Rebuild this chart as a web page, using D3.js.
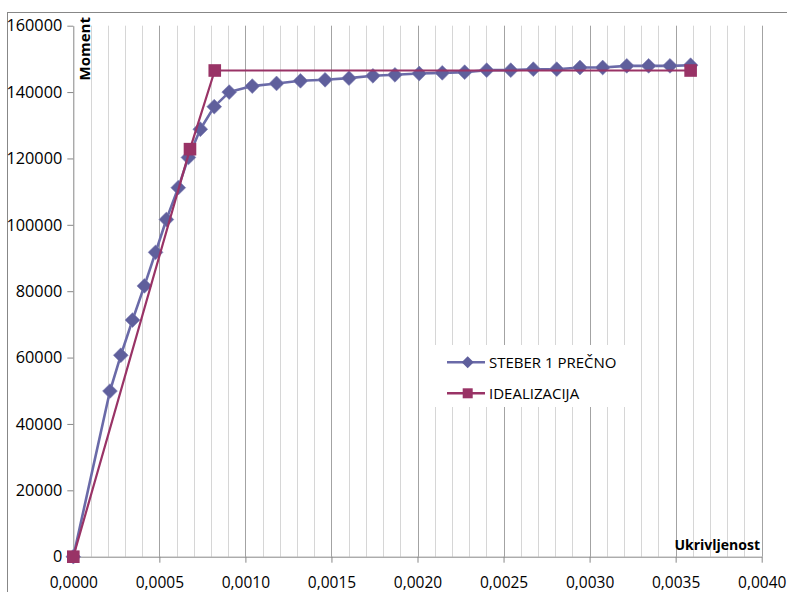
<!DOCTYPE html>
<html>
<head>
<meta charset="utf-8">
<script src="https://cdn.jsdelivr.net/npm/d3@7"></script>
<style>
  html, body { margin: 0; padding: 0; background: #fff; }
  svg { display: block; }
</style>
</head>
<body>
<svg id="chart" width="787" height="592"></svg>
<script>
// Moment–curvature data for column 1 (transverse) and its bilinear idealization
const curvatureSteber = [0, 0.000213, 0.000276, 0.000344, 0.000413, 0.000478, 0.000541, 0.000610,
  0.000669, 0.000738, 0.000819, 0.000906, 0.001040, 0.001181, 0.001320, 0.001463, 0.001602,
  0.001741, 0.001869, 0.002010, 0.002144, 0.002274, 0.002402, 0.002542, 0.002673, 0.002809,
  0.002944, 0.003076, 0.003216, 0.003343, 0.003467, 0.003587];
const momentSteber = [0, 49900, 60700, 71300, 81600, 91700, 101600, 111200,
  120300, 128800, 135600, 140000, 141800, 142600, 143400, 143700, 144200,
  144900, 145200, 145600, 145800, 146000, 146600, 146600, 146900, 146900,
  147400, 147400, 147900, 147900, 147900, 148100];

const curvatureIdeal = [0, 0.000678, 0.000822, 0.003587];
const momentIdeal = [0, 122800, 146500, 146500];

const seriesNames = ["STEBER 1 PREČNO", "IDEALIZACIJA"];

const xTicks = [0, 0.0005, 0.0010, 0.0015, 0.0020, 0.0025, 0.0030, 0.0035, 0.0040];
const xTickLabels = ["0,0000", "0,0005", "0,0010", "0,0015", "0,0020", "0,0025", "0,0030", "0,0035", "0,0040"];
const yTicks = [0, 20000, 40000, 60000, 80000, 100000, 120000, 140000, 160000];
const yTickLabels = ["0", "20000", "40000", "60000", "80000", "100000", "120000", "140000", "160000"];

const axisTitleY = "Moment";
const axisTitleX = "Ukrivljenost";

// ---- layout ----
const plot = { left: 73.3, right: 761.7, top: 25.7, bottom: 556.7 };
const FONT = "'Open Sans', 'DejaVu Sans', sans-serif";
const colSteber = "#6a6aa8", colSteberMark = "#5f5f9c";
const colIdeal = "#993366";

const svg = d3.select("#chart");

const x = d3.scaleLinear().domain([0, 0.004]).range([plot.left, plot.right]);
const y = d3.scaleLinear().domain([0, 160000]).range([plot.bottom, plot.top]);

// outer chart frame
svg.append("rect")
  .attr("x", 7.5).attr("y", 12.5).attr("width", 820).attr("height", 620)
  .attr("fill", "#fff").attr("stroke", "#878787").attr("stroke-width", 1);

// vertical gridlines: minor every 0.0001, major every 0.0005
const minorTicks = d3.range(1, 41).map(i => i * 0.0001);
const grid = svg.append("g");
grid.selectAll("line.minor")
  .data(minorTicks.filter((d, i) => (i + 1) % 5 !== 0))
  .join("line")
  .attr("class", "minor")
  .attr("x1", d => Math.round(x(d)) + 0.5).attr("x2", d => Math.round(x(d)) + 0.5)
  .attr("y1", plot.top).attr("y2", plot.bottom)
  .attr("stroke", "#d6d6d6").attr("stroke-width", 1);
grid.selectAll("line.major")
  .data(xTicks.slice(1))
  .join("line")
  .attr("class", "major")
  .attr("x1", d => Math.round(x(d)) + 0.5).attr("x2", d => Math.round(x(d)) + 0.5)
  .attr("y1", plot.top).attr("y2", plot.bottom)
  .attr("stroke", "#a3a3a3").attr("stroke-width", 1);

// axes
const xAxis = d3.axisBottom(x).tickValues(xTicks)
  .tickFormat((d, i) => xTickLabels[i]).tickSizeInner(6).tickSizeOuter(0).tickPadding(14);
const yAxis = d3.axisLeft(y).tickValues(yTicks)
  .tickFormat((d, i) => yTickLabels[i]).tickSizeInner(6).tickSizeOuter(0).tickPadding(5);

const gx = svg.append("g").attr("transform", `translate(0,${plot.bottom})`).call(xAxis);
const gy = svg.append("g").attr("transform", `translate(${plot.left},0)`).call(yAxis);
[gx, gy].forEach(g => {
  g.select(".domain").attr("stroke", "#878787").attr("stroke-width", 1);
  g.selectAll(".tick line").attr("stroke", "#878787");
  g.selectAll(".tick text").attr("fill", "#000").style("font-family", FONT);
});
gx.selectAll(".tick text").style("font-size", "15.5px");
gy.selectAll(".tick text").style("font-size", "16.3px");

// axis titles
svg.append("text")
  .attr("transform", `translate(90,17) rotate(-90)`)
  .attr("text-anchor", "end")
  .style("font-family", FONT).style("font-size", "15px").style("font-weight", "bold")
  .text(axisTitleY);
svg.append("text")
  .attr("x", 760).attr("y", 550)
  .attr("text-anchor", "end")
  .style("font-family", FONT).style("font-size", "14px").style("font-weight", "bold")
  .text(axisTitleX);

// series
const steber = curvatureSteber.map((c, i) => [c, momentSteber[i]]);
const ideal = curvatureIdeal.map((c, i) => [c, momentIdeal[i]]);
const line = d3.line().x(d => x(d[0])).y(d => y(d[1]));

const diamond = (r) => `M0,${-r}L${r},0L0,${r}L${-r},0Z`;

svg.append("path").datum(steber)
  .attr("d", line).attr("fill", "none")
  .attr("stroke", colSteber).attr("stroke-width", 2.6).attr("stroke-linejoin", "round");
svg.append("g").selectAll("path")
  .data(steber).join("path")
  .attr("transform", d => `translate(${x(d[0])},${y(d[1])})`)
  .attr("d", diamond(7.4))
  .attr("fill", colSteberMark).attr("stroke", "#7c7cb4").attr("stroke-width", 0.6);

svg.append("path").datum(ideal)
  .attr("d", line).attr("fill", "none")
  .attr("stroke", colIdeal).attr("stroke-width", 2.2);
svg.append("g").selectAll("rect")
  .data(ideal).join("rect")
  .attr("x", d => x(d[0]) - 6.3).attr("y", d => y(d[1]) - 6.3)
  .attr("width", 12.6).attr("height", 12.6)
  .attr("fill", colIdeal);

// legend
const legend = svg.append("g");
legend.append("rect")
  .attr("x", 430).attr("y", 345).attr("width", 198).attr("height", 62)
  .attr("fill", "#fff");
const legendRows = [
  { name: seriesNames[0], y: 362.3, color: colSteber, mark: colSteberMark, shape: "diamond" },
  { name: seriesNames[1], y: 393.3, color: colIdeal, mark: colIdeal, shape: "square" }
];
legendRows.forEach(r => {
  legend.append("line")
    .attr("x1", 447).attr("x2", 485).attr("y1", r.y).attr("y2", r.y)
    .attr("stroke", r.color).attr("stroke-width", 2.4);
  if (r.shape === "diamond") {
    legend.append("path").attr("transform", `translate(467.7,${r.y})`)
      .attr("d", diamond(6)).attr("fill", r.mark);
  } else {
    legend.append("rect").attr("x", 467.7 - 5).attr("y", r.y - 5)
      .attr("width", 10).attr("height", 10).attr("fill", r.mark);
  }
  legend.append("text")
    .attr("x", 489).attr("y", r.y + 5.5)
    .style("font-family", FONT).style("font-size", "15px").attr("fill", "#000")
    .text(r.name);
});
</script>
</body>
</html>
